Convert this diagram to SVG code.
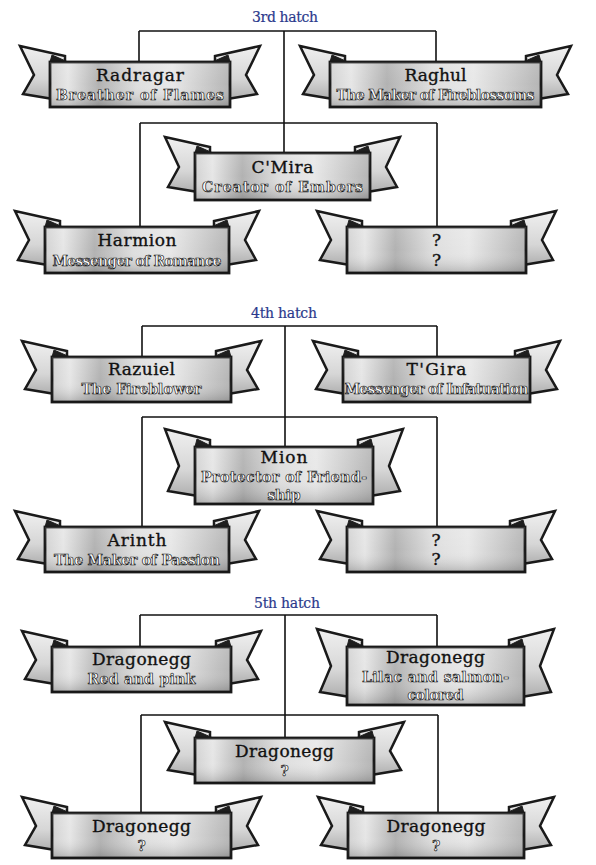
<svg xmlns="http://www.w3.org/2000/svg" width="596" height="865" viewBox="0 0 596 865">
<style>
.tail{fill:url(#tg);stroke:#1a1a1a;stroke-width:2.5;stroke-linejoin:miter}
.fold{fill:#1e1e1e;stroke:#1e1e1e;stroke-width:1;stroke-linejoin:round}
.panel{fill:url(#pg);stroke:#1a1a1a;stroke-width:2.8}
.shade{fill:url(#pv)}
.nm{font-family:"DejaVu Serif","Liberation Serif",serif;font-size:17px;fill:#111;stroke:#111;stroke-width:0.35;text-anchor:middle}
.sb{font-family:"DejaVu Serif","Liberation Serif",serif;font-size:14px;font-weight:bold;fill:#fafafa;stroke:#111;stroke-width:0.65;text-anchor:middle}
.hd{font-family:"DejaVu Serif","Liberation Serif",serif;font-size:14px;fill:#2b3a8c;stroke:#2b3a8c;stroke-width:0.2;text-anchor:middle}
.cn line{stroke:#111;stroke-width:1.6}
</style>
<defs>
<linearGradient id="tg" x1="0" y1="0" x2="0" y2="1">
<stop offset="0" stop-color="#f0f0f0"/><stop offset="0.6" stop-color="#d6d6d6"/><stop offset="1" stop-color="#acacac"/>
</linearGradient>
<linearGradient id="pg" x1="0" y1="0" x2="1" y2="0">
<stop offset="0" stop-color="#d2d2d2"/><stop offset="0.1" stop-color="#e6e6e6"/><stop offset="0.27" stop-color="#b2b2b2"/><stop offset="0.48" stop-color="#dedede"/><stop offset="0.68" stop-color="#e8e8e8"/><stop offset="0.88" stop-color="#c8c8c8"/><stop offset="1" stop-color="#b4b4b4"/>
</linearGradient>
<linearGradient id="pv" x1="0" y1="0" x2="0" y2="1">
<stop offset="0" stop-color="#fff" stop-opacity="0.12"/><stop offset="0.5" stop-color="#fff" stop-opacity="0"/><stop offset="1" stop-color="#000" stop-opacity="0.2"/>
</linearGradient>
</defs>
<rect width="596" height="865" fill="#fff"/>

<text class="hd" x="285" y="22" textLength="66">3rd hatch</text>
<text class="hd" x="284" y="318" textLength="66">4th hatch</text>
<text class="hd" x="287" y="608" textLength="66">5th hatch</text>

<g id="connectors" class="cn">
<line x1="139" y1="31" x2="436" y2="31"/>
<line x1="139" y1="31" x2="139" y2="62"/>
<line x1="436" y1="31" x2="436" y2="62"/>
<line x1="284" y1="31" x2="284" y2="153"/>
<line x1="140" y1="123" x2="437" y2="123"/>
<line x1="140" y1="123" x2="140" y2="227"/>
<line x1="437" y1="123" x2="437" y2="227"/>

<line x1="142" y1="326" x2="437" y2="326"/>
<line x1="142" y1="326" x2="142" y2="357"/>
<line x1="437" y1="326" x2="437" y2="357"/>
<line x1="285" y1="326" x2="285" y2="447"/>
<line x1="142" y1="417" x2="437" y2="417"/>
<line x1="142" y1="417" x2="142" y2="527"/>
<line x1="437" y1="417" x2="437" y2="527"/>

<line x1="140" y1="615" x2="437" y2="615"/>
<line x1="140" y1="615" x2="140" y2="647"/>
<line x1="437" y1="615" x2="437" y2="647"/>
<line x1="285" y1="615" x2="285" y2="738"/>
<line x1="141" y1="715" x2="438" y2="715"/>
<line x1="141" y1="715" x2="141" y2="813"/>
<line x1="438" y1="715" x2="438" y2="813"/>
</g>

<g id="radragar" transform="translate(50,62)">
<polygon class="tail" points="-30,-16 15,-6 15,39 -27,32 -16,13"/>
<polygon class="tail" points="210,-16 165,-6 165,39 207,32 196,13"/>
<polygon class="fold" points="0,0 2,-7 18,0"/>
<polygon class="fold" points="180,0 178,-7 162,0"/>
<rect class="panel" width="180" height="45"/><rect class="shade" width="180" height="45"/>
<text class="nm" x="90" y="19" textLength="88">Radragar</text>
<text class="sb" x="90" y="38" textLength="168">Breather of Flames</text>
</g>

<g id="raghul" transform="translate(330,62)">
<polygon class="tail" points="-30,-16 15,-6 15,39 -27,32 -16,13"/>
<polygon class="tail" points="241,-16 196,-6 196,39 238,32 227,13"/>
<polygon class="fold" points="0,0 2,-7 18,0"/>
<polygon class="fold" points="211,0 209,-7 193,0"/>
<rect class="panel" width="211" height="45"/><rect class="shade" width="211" height="45"/>
<text class="nm" x="105.5" y="19" textLength="62">Raghul</text>
<text class="sb" x="105.5" y="38" textLength="198">The Maker of Fireblossoms</text>
</g>

<g id="cmira" transform="translate(195,153)">
<polygon class="tail" points="-30,-16 15,-6 15,41 -27,34 -16,14"/>
<polygon class="tail" points="205,-16 160,-6 160,41 202,34 191,14"/>
<polygon class="fold" points="0,0 2,-7 18,0"/>
<polygon class="fold" points="175,0 173,-7 157,0"/>
<rect class="panel" width="175" height="47"/><rect class="shade" width="175" height="47"/>
<text class="nm" x="87.5" y="20" textLength="62">C'Mira</text>
<text class="sb" x="87.5" y="39" textLength="161">Creator of Embers</text>
</g>

<g id="harmion" transform="translate(45,227)">
<polygon class="tail" points="-30,-16 15,-6 15,40 -27,33 -16,13"/>
<polygon class="tail" points="214,-16 169,-6 169,40 211,33 200,13"/>
<polygon class="fold" points="0,0 2,-7 18,0"/>
<polygon class="fold" points="184,0 182,-7 166,0"/>
<rect class="panel" width="184" height="46"/><rect class="shade" width="184" height="46"/>
<text class="nm" x="92" y="19" textLength="79">Harmion</text>
<text class="sb" x="92" y="39" textLength="169">Messenger of Romance</text>
</g>

<g id="unknown3" transform="translate(347,227)">
<polygon class="tail" points="-30,-16 15,-6 15,40 -27,33 -16,13"/>
<polygon class="tail" points="209,-16 164,-6 164,40 206,33 195,13"/>
<polygon class="fold" points="0,0 2,-7 18,0"/>
<polygon class="fold" points="179,0 177,-7 161,0"/>
<rect class="panel" width="179" height="46"/><rect class="shade" width="179" height="46"/>
<text class="nm" x="89.5" y="19">?</text>
<text class="nm" x="89.5" y="39">?</text>
</g>

<g id="razuiel" transform="translate(52,357)">
<polygon class="tail" points="-30,-16 15,-6 15,39 -27,32 -16,13"/>
<polygon class="tail" points="209,-16 164,-6 164,39 206,32 195,13"/>
<polygon class="fold" points="0,0 2,-7 18,0"/>
<polygon class="fold" points="179,0 177,-7 161,0"/>
<rect class="panel" width="179" height="45"/><rect class="shade" width="179" height="45"/>
<text class="nm" x="89.5" y="18" textLength="67">Razuiel</text>
<text class="sb" x="89.5" y="37" textLength="120">The Fireblower</text>
</g>

<g id="tgira" transform="translate(343,357)">
<polygon class="tail" points="-30,-16 15,-6 15,39 -27,32 -16,13"/>
<polygon class="tail" points="217,-16 172,-6 172,39 214,32 203,13"/>
<polygon class="fold" points="0,0 2,-7 18,0"/>
<polygon class="fold" points="187,0 185,-7 169,0"/>
<rect class="panel" width="187" height="45"/><rect class="shade" width="187" height="45"/>
<text class="nm" x="93.5" y="18" textLength="60">T'Gira</text>
<text class="sb" x="93.5" y="37" textLength="184">Messenger of Infatuation</text>
</g>

<g id="mion" transform="translate(195,447)">
<polygon class="tail" points="-30,-18 15,-7 15,51 -27,44 -16,19"/>
<polygon class="tail" points="208,-18 163,-7 163,51 205,44 194,19"/>
<polygon class="fold" points="0,0 2,-8 18,0"/>
<polygon class="fold" points="178,0 176,-8 160,0"/>
<rect class="panel" width="178" height="57"/><rect class="shade" width="178" height="57"/>
<text class="nm" x="89" y="16" textLength="47">Mion</text>
<text class="sb" x="89" y="35" textLength="166">Protector of Friend-</text>
<text class="sb" x="89" y="53" textLength="33">ship</text>
</g>

<g id="arinth" transform="translate(45,527)">
<polygon class="tail" points="-30,-16 15,-6 15,39 -27,32 -16,13"/>
<polygon class="tail" points="214,-16 169,-6 169,39 211,32 200,13"/>
<polygon class="fold" points="0,0 2,-7 18,0"/>
<polygon class="fold" points="184,0 182,-7 166,0"/>
<rect class="panel" width="184" height="45"/><rect class="shade" width="184" height="45"/>
<text class="nm" x="92" y="19" textLength="59">Arinth</text>
<text class="sb" x="92" y="38" textLength="166">The Maker of Passion</text>
</g>

<g id="unknown4" transform="translate(347,527)">
<polygon class="tail" points="-30,-16 15,-6 15,39 -27,32 -16,13"/>
<polygon class="tail" points="208,-16 163,-6 163,39 205,32 194,13"/>
<polygon class="fold" points="0,0 2,-7 18,0"/>
<polygon class="fold" points="178,0 176,-7 160,0"/>
<rect class="panel" width="178" height="45"/><rect class="shade" width="178" height="45"/>
<text class="nm" x="89" y="19">?</text>
<text class="nm" x="89" y="38">?</text>
</g>

<g id="egg-red" transform="translate(52,647)">
<polygon class="tail" points="-30,-16 15,-6 15,39 -27,32 -16,13"/>
<polygon class="tail" points="209,-16 164,-6 164,39 206,32 195,13"/>
<polygon class="fold" points="0,0 2,-7 18,0"/>
<polygon class="fold" points="179,0 177,-7 161,0"/>
<rect class="panel" width="179" height="45"/><rect class="shade" width="179" height="45"/>
<text class="nm" x="89.5" y="18" textLength="99">Dragonegg</text>
<text class="sb" x="89.5" y="37" textLength="108">Red and pink</text>
</g>

<g id="egg-lilac" transform="translate(347,647)">
<polygon class="tail" points="-30,-18 15,-7 15,52 -27,45 -16,19"/>
<polygon class="tail" points="207,-18 162,-7 162,52 204,45 193,19"/>
<polygon class="fold" points="0,0 2,-8 18,0"/>
<polygon class="fold" points="177,0 175,-8 159,0"/>
<rect class="panel" width="177" height="58"/><rect class="shade" width="177" height="58"/>
<text class="nm" x="88.5" y="16" textLength="99">Dragonegg</text>
<text class="sb" x="88.5" y="35" textLength="147">Lilac and salmon-</text>
<text class="sb" x="88.5" y="53" textLength="56">colored</text>
</g>

<g id="egg-center" transform="translate(195,738)">
<polygon class="tail" points="-30,-16 15,-6 15,39 -27,32 -16,13"/>
<polygon class="tail" points="209,-16 164,-6 164,39 206,32 195,13"/>
<polygon class="fold" points="0,0 2,-7 18,0"/>
<polygon class="fold" points="179,0 177,-7 161,0"/>
<rect class="panel" width="179" height="45"/><rect class="shade" width="179" height="45"/>
<text class="nm" x="89.5" y="19" textLength="99">Dragonegg</text>
<text class="sb" x="89.5" y="38">?</text>
</g>

<g id="egg-left" transform="translate(52,813)">
<polygon class="tail" points="-30,-16 15,-6 15,39 -27,32 -16,13"/>
<polygon class="tail" points="209,-16 164,-6 164,39 206,32 195,13"/>
<polygon class="fold" points="0,0 2,-7 18,0"/>
<polygon class="fold" points="179,0 177,-7 161,0"/>
<rect class="panel" width="179" height="45"/><rect class="shade" width="179" height="45"/>
<text class="nm" x="89.5" y="19" textLength="99">Dragonegg</text>
<text class="sb" x="89.5" y="38">?</text>
</g>

<g id="egg-right" transform="translate(348,813)">
<polygon class="tail" points="-30,-16 15,-6 15,39 -27,32 -16,13"/>
<polygon class="tail" points="206,-16 161,-6 161,39 203,32 192,13"/>
<polygon class="fold" points="0,0 2,-7 18,0"/>
<polygon class="fold" points="176,0 174,-7 158,0"/>
<rect class="panel" width="176" height="45"/><rect class="shade" width="176" height="45"/>
<text class="nm" x="88" y="19" textLength="99">Dragonegg</text>
<text class="sb" x="88" y="38">?</text>
</g>
</svg>
